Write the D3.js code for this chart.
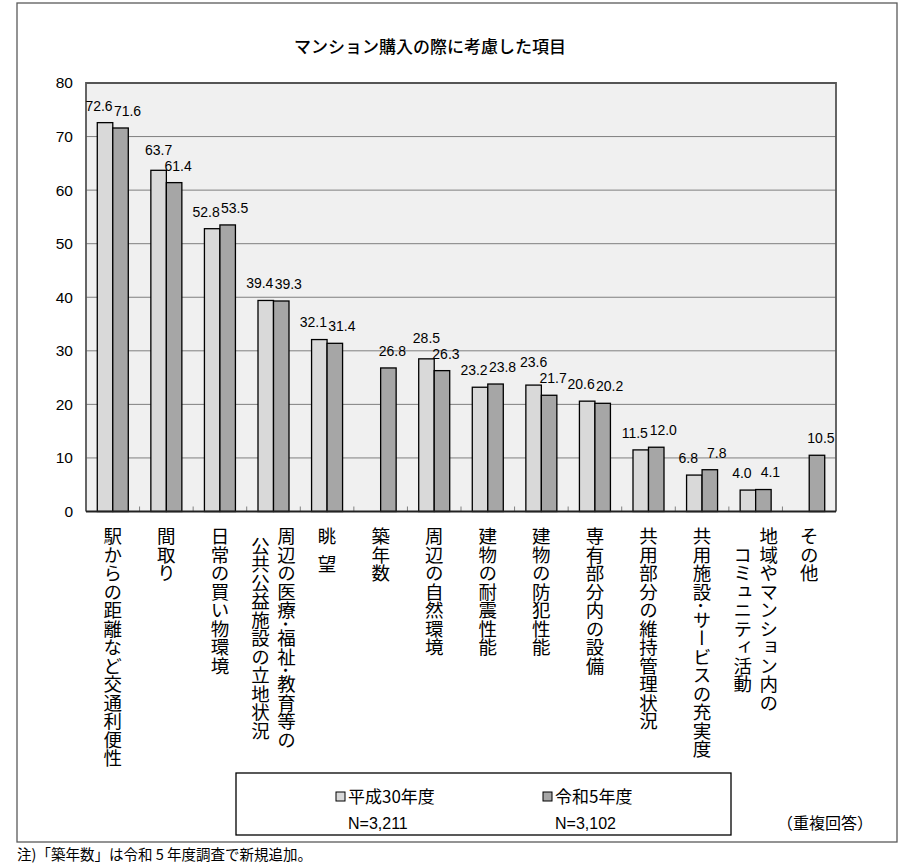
<!DOCTYPE html>
<html>
<head>
<meta charset="utf-8">
<script src="https://cdn.jsdelivr.net/npm/d3@7"></script>
<style>
  body { margin: 0; background: #fff; }
  svg { display: block; }
  text { font-family: "Noto Sans CJK JP", "Noto Sans", sans-serif; fill: #000; }
  .num { font-family: "Liberation Sans", Arial, sans-serif; }
</style>
</head>
<body>
<div id="chart"></div>
<script>
// categories (multi-line labels split into lines)
var categories = [
  ['駅からの距離など交通利便性'],
  ['間取り'],
  ['日常の買い物環境'],
  ['周辺の医療･福祉･教育等の', '公共公益施設の立地状況'],
  ['眺\u2002望'],
  ['築年数'],
  ['周辺の自然環境'],
  ['建物の耐震性能'],
  ['建物の防犯性能'],
  ['専有部分内の設備'],
  ['共用部分の維持管理状況'],
  ['共用施設･サービスの充実度'],
  ['地域やマンション内の', 'コミュニティ活動'],
  ['その他']
];
var seriesNames = ['平成30年度', '令和5年度'];
var seriesN = ['N=3,211', 'N=3,102'];
var h30 = [72.6, 63.7, 52.8, 39.4, 32.1, null, 28.5, 23.2, 23.6, 20.6, 11.5, 6.8, 4.0, null];
var r5  = [71.6, 61.4, 53.5, 39.3, 31.4, 26.8, 26.3, 23.8, 21.7, 20.2, 12.0, 7.8, 4.1, 10.5];
var yTicks = [0, 10, 20, 30, 40, 50, 60, 70, 80];

var colors = ['#d9d9d9', '#a6a6a6'];
var width = 907, height = 863;

var svg = d3.select('#chart').append('svg')
  .attr('width', width)
  .attr('height', height);

// outer frame
svg.append('rect')
  .attr('x', 17).attr('y', 3)
  .attr('width', 880).attr('height', 839)
  .attr('fill', '#fff')
  .attr('stroke', '#5a5a5a')
  .attr('stroke-width', 1.3);

svg.append('text')
  .attr('x', 430).attr('y', 53)
  .attr('text-anchor', 'middle')
  .style('font-size', '17px')
  .style('font-weight', 500)
  .text('マンション購入の際に考慮した項目');

var plot = { left: 86, right: 836, top: 83, bottom: 511.5 };

var x = d3.scaleBand()
  .domain(d3.range(categories.length))
  .range([plot.left, plot.right])
  .padding(0);

var xInner = d3.scaleBand()
  .domain([0, 1])
  .range([-15.5, 15.5])
  .padding(0);

var y = d3.scaleLinear()
  .domain([0, 80])
  .range([plot.bottom, plot.top]);

// plot background
svg.append('rect')
  .attr('x', plot.left).attr('y', plot.top)
  .attr('width', plot.right - plot.left)
  .attr('height', plot.bottom - plot.top)
  .attr('fill', '#f0f0f0');

// gridlines
svg.append('g')
  .selectAll('line')
  .data(yTicks.filter(function(d){ return d > 0 && d < 80; }))
  .enter().append('line')
  .attr('x1', plot.left).attr('x2', plot.right)
  .attr('y1', function(d){ return y(d); })
  .attr('y2', function(d){ return y(d); })
  .attr('stroke', '#7f7f7f')
  .attr('stroke-width', 1);

// y axis labels
svg.append('g')
  .selectAll('text')
  .data(yTicks)
  .enter().append('text')
  .attr('class', 'num')
  .attr('x', 73)
  .attr('y', function(d){ return y(d); })
  .attr('dy', '0.35em')
  .attr('text-anchor', 'end')
  .style('font-size', '15.5px')
  .text(function(d){ return d; });

// plot border (top, right, left)
svg.append('path')
  .attr('d', 'M' + plot.left + ',' + plot.bottom + 'V' + plot.top + 'H' + plot.right + 'V' + plot.bottom)
  .attr('fill', 'none')
  .attr('stroke', '#555')
  .attr('stroke-width', 1.8);

// category tick marks at band boundaries
svg.append('g')
  .selectAll('line')
  .data(d3.range(1, categories.length))
  .enter().append('line')
  .attr('x1', function(d){ return x(d); })
  .attr('x2', function(d){ return x(d); })
  .attr('y1', plot.bottom)
  .attr('y2', plot.bottom - 5)
  .attr('stroke', '#808080')
  .attr('stroke-width', 1);

// bars
var barData = [];
categories.forEach(function(c, i) {
  [h30, r5].forEach(function(s, k) {
    if (s[i] !== null) barData.push({ i: i, k: k, v: s[i] });
  });
});

svg.append('g')
  .selectAll('rect')
  .data(barData)
  .enter().append('rect')
  .attr('x', function(d){ return x(d.i) + x.bandwidth() / 2 + xInner(d.k); })
  .attr('y', function(d){ return y(d.v); })
  .attr('width', xInner.bandwidth())
  .attr('height', function(d){ return y(0) - y(d.v); })
  .attr('fill', function(d){ return colors[d.k]; })
  .attr('stroke', '#000')
  .attr('stroke-width', 1.3);

// zero axis line
svg.append('line')
  .attr('x1', plot.left).attr('x2', plot.right)
  .attr('y1', plot.bottom).attr('y2', plot.bottom)
  .attr('stroke', '#222')
  .attr('stroke-width', 1.8);

// data labels: spread sideways when the pair is about the same height,
// otherwise lift the taller one so the two don't collide
var minSep = 16;
svg.append('g')
  .selectAll('text')
  .data(barData)
  .enter().append('text')
  .attr('class', 'num')
  .attr('x', function(d){
    var cx = x(d.i) + x.bandwidth() / 2 + xInner(d.k) + xInner.bandwidth() / 2;
    var other = d.k === 0 ? r5[d.i] : h30[d.i];
    var close = other !== null && Math.abs(y(other) - y(d.v)) < 10;
    if (d.k === 0) return cx - (close ? 6 : 0);
    return cx + (close ? 7 : 4);
  })
  .attr('y', function(d){
    var ly = y(d.v) - 17;
    var other = d.k === 0 ? r5[d.i] : h30[d.i];
    if (other !== null) {
      var diff = Math.abs(y(other) - y(d.v));
      if (diff >= 10 && diff < minSep && d.v > other) ly -= (minSep - diff);
    }
    return ly;
  })
  .attr('dy', '0.35em')
  .attr('text-anchor', 'middle')
  .style('font-size', '14px')
  .text(function(d){ return d3.format('.1f')(d.v); });

// vertical category labels
var catTop = 527, lineGap = 26;
var labelG = svg.append('g');
categories.forEach(function(lines, i) {
  var cx = x(i) + x.bandwidth() / 2;
  var n = lines.length;
  var nodes = lines.map(function(line, j) {
    return labelG.append('text')
      .attr('x', cx + ((n - 1) / 2 - j) * lineGap)
      .attr('y', catTop)
      .style('writing-mode', 'vertical-rl')
      .style('white-space', 'pre')
      .style('font-size', '18.5px')
      .text(line);
  });
  if (n > 1) {
    var lens = nodes.map(function(t){ return t.node().getComputedTextLength(); });
    var maxLen = d3.max(lens);
    nodes.forEach(function(t, j) {
      t.attr('y', catTop + (maxLen - lens[j]) / 2);
    });
  }
});

// legend box
svg.append('rect')
  .attr('x', 236).attr('y', 773)
  .attr('width', 495).attr('height', 62)
  .attr('fill', '#fff')
  .attr('stroke', '#000')
  .attr('stroke-width', 1.3);

var legendX = [335, 542];
seriesNames.forEach(function(name, k) {
  svg.append('rect')
    .attr('x', legendX[k] + 1).attr('y', 792)
    .attr('width', 9).attr('height', 9)
    .attr('fill', colors[k])
    .attr('stroke', '#000')
    .attr('stroke-width', 1);
  svg.append('text')
    .attr('x', legendX[k] + 13).attr('y', 797)
    .attr('dy', '0.35em')
    .style('font-size', '17px')
    .text(name);
  svg.append('text')
    .attr('class', 'num')
    .attr('x', legendX[k] + 13).attr('y', 823)
    .attr('dy', '0.35em')
    .style('font-size', '16px')
    .text(seriesN[k]);
});

svg.append('text')
  .attr('x', 873).attr('y', 823)
  .attr('dy', '0.35em')
  .attr('text-anchor', 'end')
  .style('font-size', '16px')
  .text('（重複回答）');

svg.append('text')
  .attr('x', 17).attr('y', 855)
  .attr('dy', '0.35em')
  .style('font-size', '14.5px')
  .text('注)「築年数」は令和 5 年度調査で新規追加。');
</script>
</body>
</html>
